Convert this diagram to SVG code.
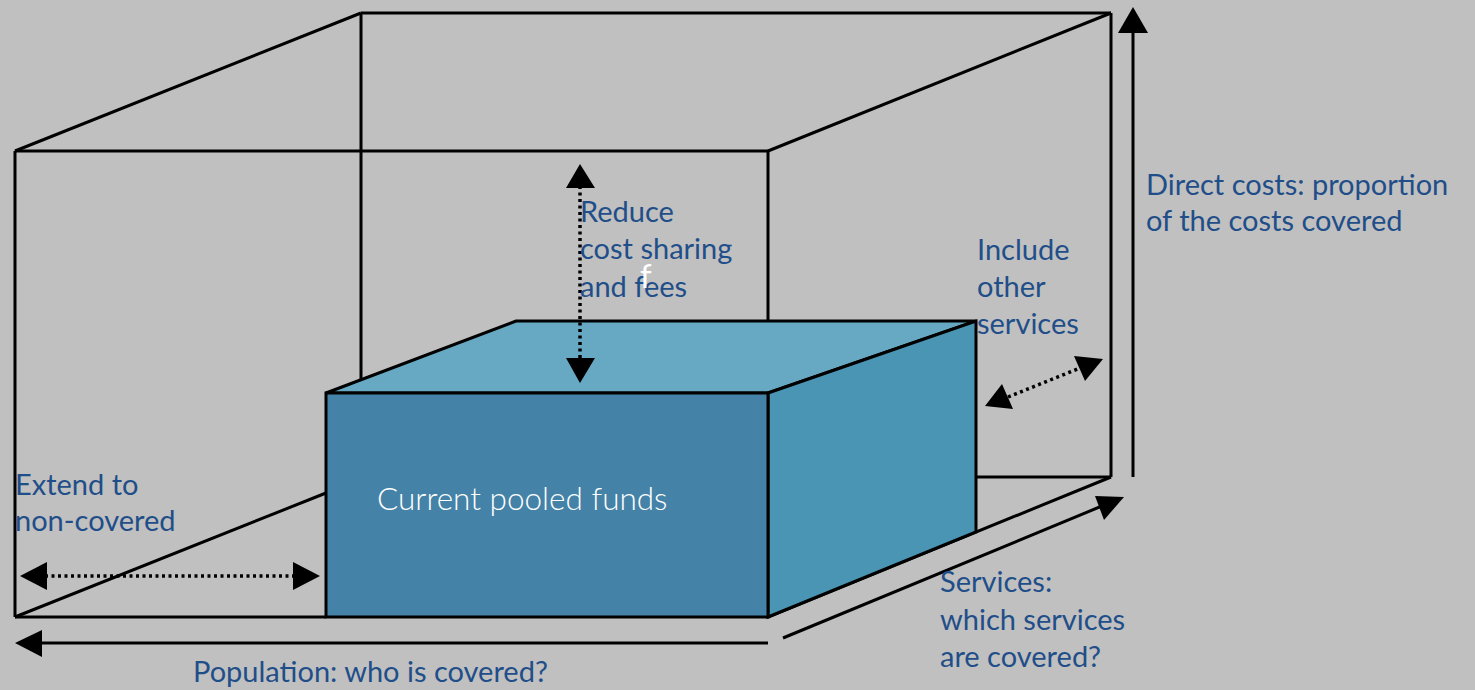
<svg xmlns="http://www.w3.org/2000/svg" width="1475" height="690" viewBox="0 0 1475 690">
  <defs>
    <style>
      .edge { fill: none; stroke: #000; stroke-width: 3; }
      .face { stroke: #000; stroke-width: 3; }
      .top { fill: #67a8c2; }
      .side { fill: #4a95b4; }
      .front { fill: #4482a7; }
      .axis { fill: none; stroke: #000; stroke-width: 3; }
      .dot { fill: none; stroke: #000; stroke-width: 3.5; stroke-dasharray: 3 3.5; }
      .head { fill: #000; }
      .lbl { font-family: Lato, "Noto Sans", sans-serif; font-size: 29px; fill: #1f4e89; }
      .wlbl { font-family: Lato, "Noto Sans", sans-serif; font-size: 31.5px; font-weight: 300; fill: #ffffff; }
      .mark { font-family: Lato, "Noto Sans", sans-serif; font-size: 33px; fill: #ffffff; }
    </style>
  </defs>
  <rect width="1475" height="690" fill="#c0c0c0"/>

  <!-- outer wireframe box -->
  <g id="outer-box" class="edge">
    <line x1="361" y1="13" x2="1111" y2="13"/>
    <line x1="361" y1="13" x2="361" y2="393"/>
    <line x1="1111" y1="13" x2="1111" y2="477"/>
    <line x1="976" y1="477" x2="1111" y2="477"/>
    <line x1="15" y1="151" x2="361" y2="13"/>
    <line x1="768" y1="151" x2="1111" y2="13"/>
    <line x1="15" y1="151" x2="768" y2="151"/>
    <line x1="15" y1="151" x2="15" y2="617"/>
    <line x1="768" y1="151" x2="768" y2="393"/>
    <line x1="15" y1="617" x2="326" y2="493"/>
    <line x1="15" y1="617" x2="326" y2="617"/>
    <line x1="768" y1="617" x2="1111" y2="477"/>
  </g>

  <!-- current pooled funds block -->
  <g id="pooled-funds">
    <polygon class="face top" points="326,393 516,321 976,321 768,393"/>
    <polygon class="face side" points="768,393 976,321 976,532 768,617"/>
    <rect class="face front" x="326" y="393" width="442" height="224"/>
    <text class="wlbl" x="377" y="510">Current pooled funds</text>
  </g>

  <!-- axes and expansion arrows -->
  <g id="connectors">
    <line class="axis" x1="1133" y1="477" x2="1133" y2="30"/>
    <polygon class="head" points="1133,7 1118,33 1148,33"/>

    <line class="axis" x1="768" y1="643" x2="38" y2="643"/>
    <polygon class="head" points="15,643 42,630 42,657"/>

    <line class="axis" x1="783" y1="638" x2="1102" y2="506"/>
    <polygon class="head" points="1124,497 1095,496 1104,520"/>

    <line class="dot" x1="580" y1="186" x2="580" y2="360"/>
    <polygon class="head" points="580,164 566,188 595,188"/>
    <polygon class="head" points="580,383 566,358 595,358"/>

    <line class="dot" x1="45" y1="576" x2="296" y2="576"/>
    <polygon class="head" points="20,576 47,562 47,590"/>
    <polygon class="head" points="320,576 293,562 293,590"/>

    <line class="dot" x1="1008" y1="397" x2="1080" y2="368"/>
    <polygon class="head" points="985,406 1002,384 1013,409"/>
    <polygon class="head" points="1103,359 1074,356 1085,381"/>
  </g>

  <!-- labels -->
  <g id="label-direct-costs">
    <text class="lbl" x="1146" y="195">Direct costs: proportion</text>
    <text class="lbl" x="1146" y="231">of the costs covered</text>
  </g>
  <g id="label-reduce">
    <text class="lbl" x="580" y="222">Reduce</text>
    <text class="lbl" x="580" y="259">cost sharing</text>
    <text class="lbl" x="580" y="297">and fees</text>
    <text class="mark" x="640" y="288">f</text>
  </g>
  <g id="label-include">
    <text class="lbl" x="977" y="260">Include</text>
    <text class="lbl" x="977" y="297">other</text>
    <text class="lbl" x="977" y="334">services</text>
  </g>
  <g id="label-extend">
    <text class="lbl" x="15" y="495">Extend to</text>
    <text class="lbl" x="15" y="531">non-covered</text>
  </g>
  <g id="label-services">
    <text class="lbl" x="940" y="592">Services:</text>
    <text class="lbl" x="940" y="630">which services</text>
    <text class="lbl" x="940" y="667">are covered?</text>
  </g>
  <g id="label-population">
    <text class="lbl" x="193" y="682">Population: who is covered?</text>
  </g>
</svg>
